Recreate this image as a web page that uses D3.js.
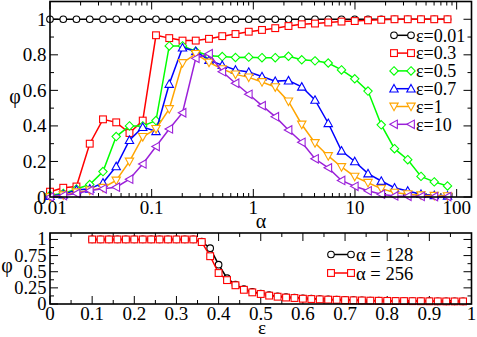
<!DOCTYPE html>
<html><head><meta charset="utf-8">
<script src="https://cdn.jsdelivr.net/npm/d3@7"></script>
<style>body{margin:0;background:#fff}svg{display:block}svg text{font-family:"Liberation Serif","DejaVu Serif",serif !important}</style>
</head><body>
<script>
// ---- data ----
const alphas = [0.01,0.0135,0.0182,0.0246,0.0332,0.0448,0.0605,0.0817,0.1103,0.1489,0.2011,0.2714,0.3664,0.4947,0.6678,0.9015,1.217,1.643,2.218,2.995,4.043,5.458,7.369,9.948,13.43,18.13,24.48,33.04,44.61,60.22,81.30];
const eps001 = [1,1,1,1,1,1,1,1,1,1,1,1,1,1,1,1,1,1,1,1,1,1,1,1,1,1,1,1,1,1,1];
const eps03  = [0.03,0.052,0.059,0.30,0.437,0.42,0.36,0.43,0.91,0.894,0.88,0.88,0.89,0.905,0.917,0.93,0.94,0.95,0.962,0.972,0.976,0.982,0.987,0.99,0.994,0.997,1.0,1.0,1.0,1.0,1.0];
const eps05  = [0.01,0.02,0.045,0.07,0.143,0.34,0.40,0.40,0.43,0.85,0.85,0.82,0.795,0.79,0.785,0.787,0.784,0.784,0.792,0.772,0.766,0.754,0.715,0.665,0.596,0.406,0.272,0.21,0.116,0.085,0.062];
const eps07  = [0.005,0.014,0.04,0.046,0.08,0.172,0.32,0.393,0.37,0.636,0.84,0.82,0.77,0.742,0.715,0.703,0.678,0.652,0.655,0.62,0.546,0.415,0.26,0.20,0.132,0.09,0.052,0.034,0.016,0.01,0.007];
const eps1   = [0.0,0.01,0.027,0.037,0.052,0.093,0.20,0.338,0.383,0.495,0.754,0.805,0.757,0.72,0.69,0.673,0.647,0.618,0.538,0.408,0.304,0.231,0.169,0.115,0.08,0.047,0.025,0.016,0.01,0.007,0.005];
const eps10  = [0.0,0.008,0.02,0.037,0.046,0.055,0.10,0.186,0.284,0.383,0.474,0.78,0.806,0.705,0.64,0.578,0.514,0.452,0.377,0.308,0.215,0.164,0.093,0.06,0.035,0.016,0.006,0.004,0.003,0.002,0.002];
const topSeries = [
  {label:"ε=0.01", values:eps001, color:"#000000", sym:"circle"},
  {label:"ε=0.3",  values:eps03,  color:"#ff0000", sym:"square"},
  {label:"ε=0.5",  values:eps05,  color:"#00ff00", sym:"diamond"},
  {label:"ε=0.7",  values:eps07,  color:"#0000ff", sym:"triUp"},
  {label:"ε=1",    values:eps1,   color:"#ffa500", sym:"triDown"},
  {label:"ε=10",   values:eps10,  color:"#9b20d9", sym:"triLeft"}
];
const topXTicks = [0.01,0.1,1,10,100];
const topXTickLabels = ["0.01","0.1","1","10","100"];
const topYTicks = [0,0.2,0.4,0.6,0.8,1];
const topYTickLabels = ["0","0.2","0.4","0.6","0.8","1"];

const epsVals = [0.10,0.12,0.14,0.16,0.18,0.20,0.22,0.24,0.26,0.28,0.30,0.32,0.34,0.36,0.38,0.40,0.42,0.44,0.46,0.48,0.50,0.52,0.54,0.56,0.58,0.60,0.62,0.64,0.66,0.68,0.70,0.72,0.74,0.76,0.78,0.80,0.82,0.84,0.86,0.88,0.90,0.92,0.94,0.96,0.98];
const a128 = [1,1,1,1,1,1,1,1,1,1,1,1,1,0.965,0.865,0.61,0.40,0.30,0.23,0.19,0.162,0.138,0.12,0.107,0.098,0.088,0.082,0.076,0.071,0.067,0.063,0.059,0.056,0.053,0.051,0.049,0.047,0.046,0.045,0.044,0.043,0.042,0.041,0.041,0.040];
const a256 = [1,1,1,1,1,1,1,1,1,1,1,1,1,0.96,0.74,0.48,0.37,0.29,0.22,0.18,0.155,0.13,0.113,0.10,0.093,0.082,0.077,0.072,0.068,0.065,0.06,0.057,0.055,0.052,0.05,0.048,0.046,0.045,0.044,0.043,0.042,0.041,0.04,0.04,0.04];
const botSeries = [
  {label:"α = 128", values:a128, color:"#000000", sym:"circle"},
  {label:"α = 256", values:a256, color:"#ff0000", sym:"square"}
];
const botXTicks = [0,0.1,0.2,0.3,0.4,0.5,0.6,0.7,0.8,0.9,1];
const botXTickLabels = ["0","0.1","0.2","0.3","0.4","0.5","0.6","0.7","0.8","0.9","1"];
const botYTicks = [0,0.25,0.5,0.75,1];
const botYTickLabels = ["0","0.25","0.5","0.75","1"];

// ---- drawing ----
const W = 477, H = 337;
const svg = d3.select("body").append("svg").attr("width", W).attr("height", H);
const FS = 19;

function txt(x, y, s, size, anchor) {
  return svg.append("text").attr("x", x).attr("y", y)
    .style("font-family", '"Liberation Serif", "DejaVu Serif", serif')
    .style("font-size", size + "px").attr("text-anchor", anchor || "start").attr("fill", "#000").text(s);
}

function marker(g, sym, x, y, color) {
  let el;
  if (sym === "circle") {
    el = g.append("circle").attr("cx", x).attr("cy", y).attr("r", 3.3);
  } else if (sym === "square") {
    el = g.append("rect").attr("x", x-3.4).attr("y", y-3.4).attr("width", 6.8).attr("height", 6.8);
  } else {
    const s = 4.2;
    let pts;
    if (sym === "diamond") pts = [[0,-s],[s,0],[0,s],[-s,0]];
    else if (sym === "triUp") pts = [[0,-s],[s,s*0.8],[-s,s*0.8]];
    else if (sym === "triDown") pts = [[0,s],[s,-s*0.8],[-s,-s*0.8]];
    else pts = [[-s,0],[s*0.8,-s],[s*0.8,s]];
    el = g.append("path").attr("d", "M" + pts.map(p => (x+p[0])+","+(y+p[1])).join("L") + "Z");
  }
  el.attr("fill", "#fff").attr("stroke", color).attr("stroke-width", 1.1);
}

function frame(x, y) {
  const [x0, x1] = x.range(), [y0, y1] = y.range();
  svg.append("rect").attr("x", x0).attr("y", y1).attr("width", x1-x0).attr("height", y0-y1)
    .attr("fill", "none").attr("stroke", "#000").attr("stroke-width", 1.6);
}

function ticksX(x, y, vals, len) {
  const [y0, y1] = y.range();
  const g = svg.append("g").attr("stroke", "#000").attr("stroke-width", 1);
  vals.forEach(v => {
    const px = x(v);
    g.append("line").attr("x1", px).attr("x2", px).attr("y1", y0).attr("y2", y0-len);
    g.append("line").attr("x1", px).attr("x2", px).attr("y1", y1).attr("y2", y1+len);
  });
}
function ticksY(x, y, vals, len) {
  const [x0, x1] = x.range();
  const g = svg.append("g").attr("stroke", "#000").attr("stroke-width", 1);
  vals.forEach(v => {
    const py = y(v);
    g.append("line").attr("y1", py).attr("y2", py).attr("x1", x0).attr("x2", x0+len);
    g.append("line").attr("y1", py).attr("y2", py).attr("x1", x1).attr("x2", x1-len);
  });
}

function drawSeries(x, y, xs, series) {
  series.forEach(s => {
    const line = d3.line().x((d,i) => x(xs[i])).y(d => y(d));
    svg.append("path").attr("d", line(s.values)).attr("fill", "none")
      .attr("stroke", s.color).attr("stroke-width", 1.5);
    const g = svg.append("g");
    s.values.forEach((v,i) => marker(g, s.sym, x(xs[i]), y(v), s.color));
  });
}

// ---- top panel ----
const xT = d3.scaleLog().domain([0.01, 140]).range([50, 471.5]);
const yT = d3.scaleLinear().domain([0, 1.1]).range([197, 1.5]);
const minorLog = [];
[0.01,0.1,1,10,100].forEach(d => { for (let m=2;m<=9;m++) { const v=d*m; if (v<140) minorLog.push(v); } });
ticksX(xT, yT, minorLog, 4);
ticksX(xT, yT, topXTicks, 8);
ticksY(xT, yT, [0.1,0.3,0.5,0.7,0.9], 4);
ticksY(xT, yT, topYTicks, 8);
drawSeries(xT, yT, alphas, topSeries);
frame(xT, yT);
topXTicks.forEach((v,i) => txt(xT(v), 214, topXTickLabels[i], FS, "middle"));
topYTicks.forEach((v,i) => txt(46.5, yT(v)+6.5, topYTickLabels[i], FS, "end"));
txt(15, 103, "φ", FS+1, "middle");
txt(261, 228, "α", FS+1, "middle");

// legend top
topSeries.forEach((s,i) => {
  const cy = 35.3 + i*17.8;
  svg.append("line").attr("x1", 394).attr("x2", 411).attr("y1", cy).attr("y2", cy)
    .attr("stroke", s.color).attr("stroke-width", 1.5);
  const g = svg.append("g");
  marker(g, s.sym, 394, cy, s.color);
  marker(g, s.sym, 411, cy, s.color);
  txt(416, cy+6.3, s.label, 18);
});

// ---- bottom panel ----
const xB = d3.scaleLinear().domain([0, 1]).range([50, 471.5]);
const yB = d3.scaleLinear().domain([0, 1.1]).range([304, 233]);
const minorB = [0.05,0.15,0.25,0.35,0.45,0.55,0.65,0.75,0.85,0.95];
ticksX(xB, yB, minorB, 4);
ticksX(xB, yB, botXTicks, 8);
ticksY(xB, yB, [0.125,0.375,0.625,0.875], 4);
ticksY(xB, yB, botYTicks, 8);
drawSeries(xB, yB, epsVals, botSeries);
frame(xB, yB);
botXTicks.forEach((v,i) => txt(xB(v), 320, botXTickLabels[i], FS, "middle"));
botYTicks.forEach((v,i) => txt(46.5, yB(v)+6, botYTickLabels[i], FS - 0.5, "end"));
txt(7, 272, "φ", FS+1, "middle");
txt(262, 334, "ε", FS, "middle");

botSeries.forEach((s,i) => {
  const cy = 254.5 + i*18.5;
  svg.append("line").attr("x1", 331).attr("x2", 351).attr("y1", cy).attr("y2", cy)
    .attr("stroke", s.color).attr("stroke-width", 1.5);
  const g = svg.append("g");
  marker(g, s.sym, 331, cy, s.color);
  marker(g, s.sym, 351, cy, s.color);
  txt(356, cy+6.5, s.label, 18.5);
});
</script>
</body></html>
